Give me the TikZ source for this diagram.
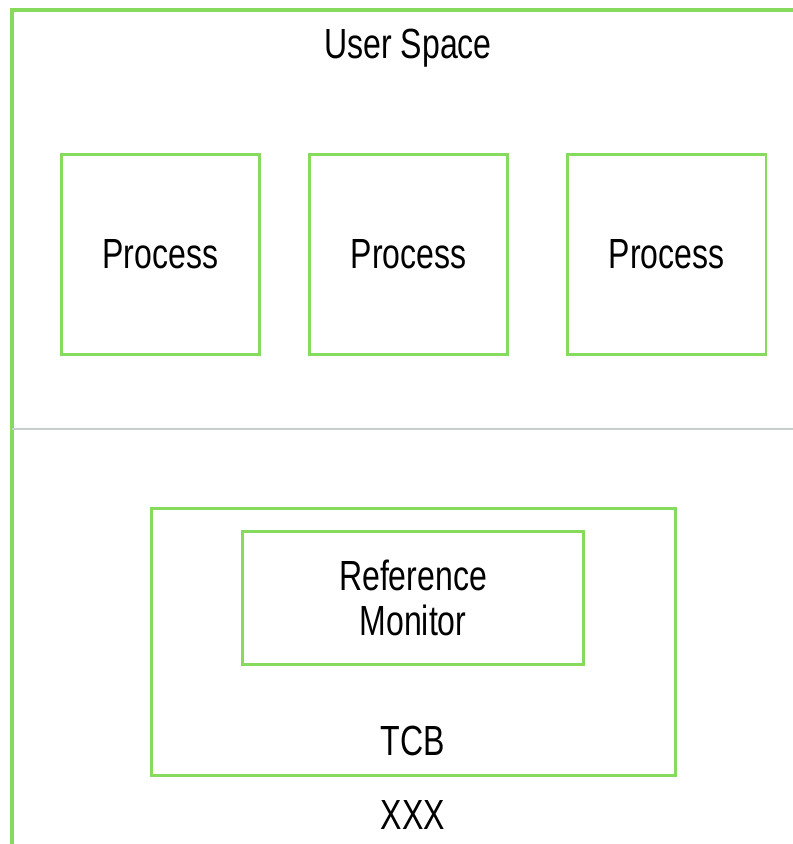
\documentclass[tikz,border=0pt]{standalone}
\usepackage{fontspec}
\setmainfont{Liberation Sans}[FakeStretch=0.76]
\usetikzlibrary{positioning}
\definecolor{tcgreen}{HTML}{86DA5E}
\definecolor{tcgray}{HTML}{C6CFCB}

\begin{document}
\begin{tikzpicture}[
      x=0.02cm, y=-0.02cm,
      font=\fontsize{24}{29}\selectfont,
      box/.style={draw=tcgreen, line width=1.7pt, align=center, inner sep=0pt},
      proc/.style={box, minimum width=3.98cm, minimum height=4.02cm},
      lbl/.style={inner sep=0pt, align=center}
    ]
    \useasboundingbox (0,0) rectangle (793,844);

    % outer frame and divider
    \draw[tcgreen, line width=2pt] (12,844) -- (12,10) -- (793,10);
    \coordinate (divl) at (12,429);
    \coordinate (divr) at (793,429);
    \draw[tcgray, line width=1.2pt] (divl) -- (divr);

    % user space
    \node[lbl] (us) at (408,48) {User Space};
    \node[proc] (p1) at (160.5,254.5) {Process};
    \node[proc] (p2) at (408.5,254.5) {Process};
    \node[proc] (p3) at (666.5,254.5) {Process};

    % kernel side
    \node[box, minimum width=10.5cm, minimum height=5.36cm] (tcb) at (413.5,642) {};
    \node[box, minimum width=6.84cm, minimum height=2.66cm] (rm) at (413,598)
      {Reference\\[-3pt]Monitor};
    \node[lbl] (tcblbl) at (413,741) {TCB};
    \node[lbl] (xxx) at (413,815) {XXX};
  \end{tikzpicture}
\end{document}
